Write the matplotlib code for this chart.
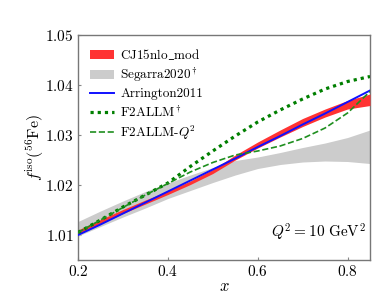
import numpy as np
import matplotlib
matplotlib.use('Agg')
from matplotlib import pyplot as plt

plt.rcParams['font.family'] = ['cmr10']
plt.rcParams['mathtext.fontset'] = 'cm'
plt.rcParams['axes.formatter.use_mathtext'] = True
plt.rcParams['axes.unicode_minus'] = False

# x grid for all curves
x = [0.20, 0.25, 0.30, 0.35, 0.40, 0.45, 0.50, 0.55, 0.60, 0.65, 0.70, 0.75, 0.80, 0.85]

# CJ15nlo_mod band
cj15_lo = [1.0101, 1.0122, 1.0143, 1.0162, 1.0181, 1.0201, 1.0223, 1.0250, 1.0274, 1.0296, 1.0317, 1.0336, 1.0352, 1.0359]
cj15_hi = [1.0110, 1.0131, 1.0151, 1.0170, 1.0188, 1.0208, 1.0231, 1.0260, 1.0286, 1.0310, 1.0333, 1.0352, 1.0369, 1.0382]

# Segarra2020 band
seg_lo = [1.0098, 1.0117, 1.0136, 1.0154, 1.0173, 1.0189, 1.0205, 1.0220, 1.0233, 1.0241, 1.0246, 1.0248, 1.0247, 1.0243]
seg_hi = [1.0127, 1.0148, 1.0168, 1.0187, 1.0204, 1.0220, 1.0235, 1.0249, 1.0256, 1.0265, 1.0275, 1.0284, 1.0295, 1.0310]

# Arrington2011
arr = [1.0100, 1.0121, 1.0143, 1.0165, 1.0187, 1.0209, 1.0231, 1.0253, 1.0276, 1.0298, 1.0321, 1.0343, 1.0366, 1.0389]

# F2ALLM and F2ALLM-Q2
f2allm = [1.0105, 1.0130, 1.0156, 1.0180, 1.0204, 1.0237, 1.0268, 1.0298, 1.0326, 1.0350, 1.0372, 1.0392, 1.0407, 1.0417]
f2allm_q2 = [1.0105, 1.0130, 1.0155, 1.0180, 1.0203, 1.0226, 1.0245, 1.0260, 1.0268, 1.0278, 1.0293, 1.0314, 1.0344, 1.0387]

fig = plt.figure(figsize=(3.9, 2.93), dpi=100)
ax = fig.add_axes([0.2, 0.1126, 0.7487, 0.7679])

ax.fill_between(x, cj15_lo, cj15_hi, color='#ff3333', lw=0, label=r'$\mathrm{CJ15nlo\_mod}$', zorder=3)
ax.fill_between(x, seg_lo, seg_hi, color='#cccccc', lw=0, label=r'Segarra2020$^\dagger$', zorder=2)
ax.plot(x, arr, color='#1010ff', lw=1.4, label='Arrington2011', zorder=4)
ax.plot(x, f2allm, color='#007f00', lw=2.3, dashes=(1, 1.25), label=r'F2ALLM$^\dagger$', zorder=5)
ax.plot(x, f2allm_q2, color='#1f8f1f', lw=1.2, ls='--', label=r'F2ALLM-$Q^2$', zorder=5)

ax.set_xlim(0.2, 0.85)
ax.set_ylim(1.005, 1.05)
ax.set_xticks([0.2, 0.4, 0.6, 0.8])
ax.set_yticks([1.01, 1.02, 1.03, 1.04, 1.05])
ax.tick_params(direction='in', length=2, color='#888888', labelsize=11, pad=3)
for s in ax.spines.values():
    s.set_color('#777777')
    s.set_linewidth(1.0)

ax.set_xlabel(r'$x$', fontsize=12, labelpad=0)
ax.set_ylabel(r'$f^{\rm iso}(^{56}{\rm Fe})$', fontsize=11.5, labelpad=-1)
ax.text(0.985, 0.1, r'$Q^2 = 10\ \mathrm{GeV}^2$', transform=ax.transAxes,
        ha='right', va='baseline', fontsize=11)

ax.legend(loc='upper left', frameon=False, fontsize=9.5, handlelength=1.8,
          handletextpad=0.5, labelspacing=0.3, borderaxespad=0.5)

fig.savefig('out.png', dpi=100)
